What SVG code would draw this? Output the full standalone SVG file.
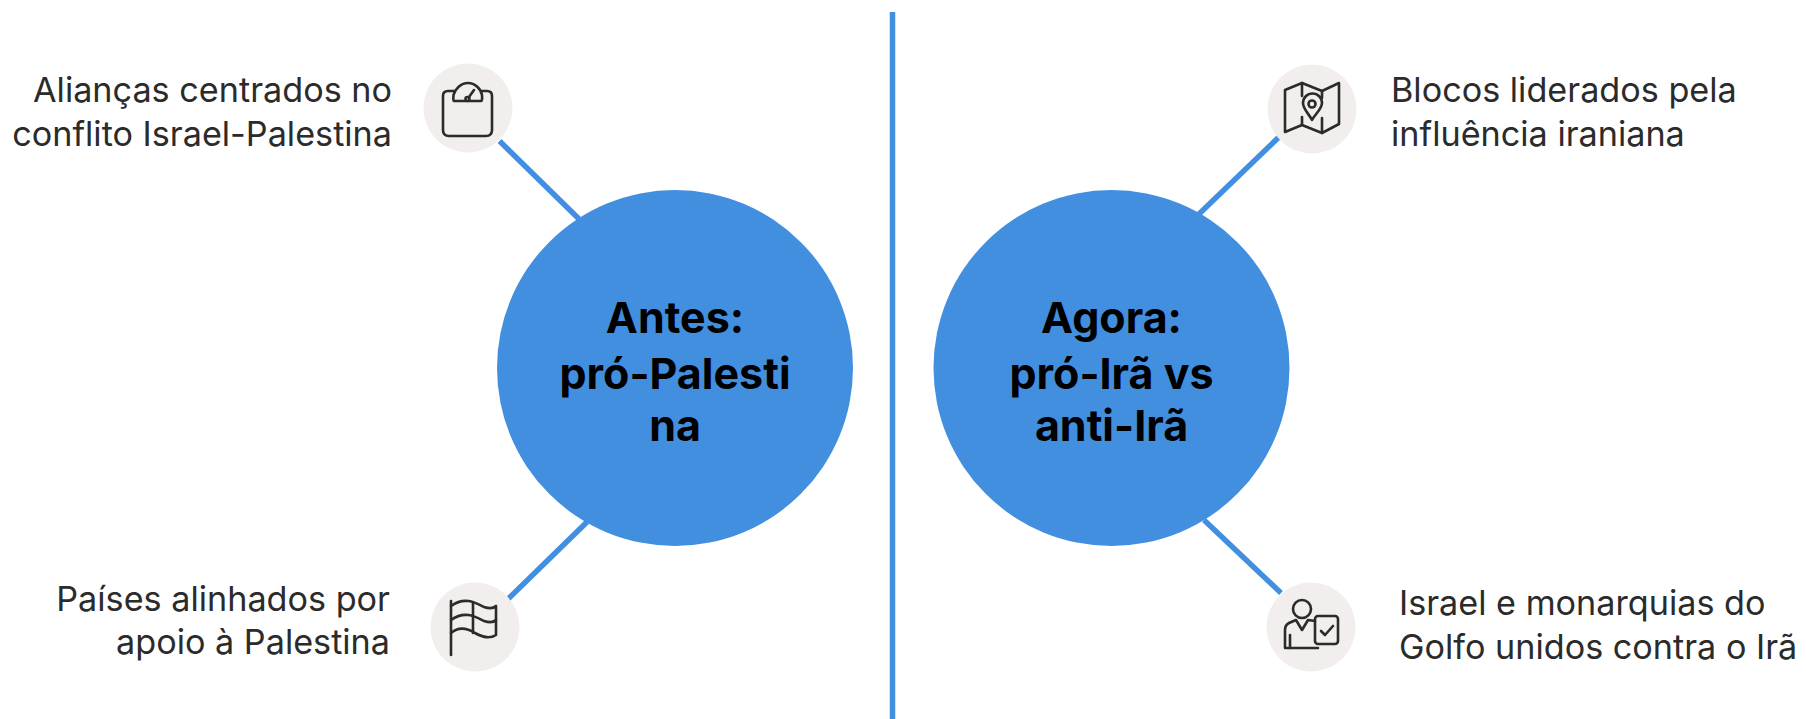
<svg xmlns="http://www.w3.org/2000/svg" width="1806" height="719" viewBox="0 0 1806 719">
<style>
text{font-family:Inter,"Liberation Sans",sans-serif}
.t{font-size:34.200px;fill:#2b2b2b}
.e{text-anchor:end}
.h{font-size:43px;font-weight:700;fill:#000;text-anchor:middle}
.big{fill:#428fe0}
.bub{fill:#f1eeed}
.c{stroke:#428fe0;stroke-width:5.500;fill:none}
.i{fill:none;stroke:#2b2b2b;stroke-width:2.600;stroke-linecap:round;stroke-linejoin:round}
</style>
<rect width="1806" height="719" fill="#fff"/>
<g id="connectors">
<line class="c" x1="499.500" y1="141" x2="579" y2="219"/>
<line class="c" x1="508" y1="599" x2="587" y2="522"/>
<line class="c" x1="1279" y1="137" x2="1199" y2="214"/>
<line class="c" x1="1281" y1="593" x2="1204" y2="520"/>
<line class="c" x1="892.500" y1="12" x2="892.500" y2="719"/>
</g>
<g id="node-antes">
<circle class="big" cx="675" cy="368" r="178"/>
<text class="h" x="675" y="333">Antes:</text>
<text class="h" x="675" y="389">pró-Palesti</text>
<text class="h" x="675" y="441">na</text>
</g>
<g id="node-agora">
<circle class="big" cx="1111.500" cy="368" r="178"/>
<text class="h" x="1111.500" y="333">Agora:</text>
<text class="h" x="1111.500" y="389">pró-Irã vs</text>
<text class="h" x="1111.500" y="441">anti-Irã</text>
</g>
<g id="node-aliancas">
<circle class="bub" cx="468" cy="108" r="44.500"/>
<path class="i" d="M454 91H448Q443 91 443 96V130Q443 136 449 136H486Q492 136 492 130V96Q492 91 487 91H481"/>
<path class="i" d="M454 101Q453 101 453.500 95C455 89 461 83 468 83C475 83 481 89 482 95Q482.500 101 481 101Z"/>
<circle class="i" cx="467.500" cy="99" r="2"/>
<line class="i" x1="469" y1="97" x2="474" y2="90"/>
<text class="t e" x="392" y="102">Alianças centrados no</text>
<text class="t e" x="392" y="146">conflito Israel-Palestina</text>
</g>
<g id="node-paises">
<circle class="bub" cx="475" cy="627" r="44.500"/>
<path class="i" d="M451 601V655"/>
<path class="i" d="M451 606C465 596 476 603 484 607C490 609 494 608 496 606V635C490 639 482 637 475 633C467 628 458 627 451 633"/>
<path class="i" d="M451 620C465 610 476 617 484 621C490 623 494 622 496 620"/>
<path class="i" d="M473 603V633"/>
<text class="t e" x="390" y="611">Países alinhados por</text>
<text class="t e" x="390" y="654">apoio à Palestina</text>
</g>
<g id="node-blocos">
<circle class="bub" cx="1312" cy="109" r="44.500"/>
<path class="i" d="M1285 90L1302 83L1322 91L1339 83V124L1322 133L1302 125L1285 132Z"/>
<path class="i" d="M1302 83V96M1302 117V125M1322 91V98M1322 118V133"/>
<path class="i" d="M1312 120C1309 114 1303 109 1303 103A9.500 9.500 0 0 1 1322 103C1322 109 1315 114 1312 120Z"/>
<circle class="i" cx="1312" cy="104" r="3.500"/>
<text class="t" x="1391" y="102">Blocos liderados pela</text>
<text class="t" x="1391" y="146">influência iraniana</text>
</g>
<g id="node-israel">
<circle class="bub" cx="1311" cy="627" r="44.500"/>
<circle class="i" cx="1302" cy="609" r="9"/>
<path class="i" d="M1315 621L1308 620L1302 630L1296 620L1289 623Q1285 625 1285 630V648H1318"/>
<path class="i" d="M1290 635V648"/>
<rect class="i" x="1315" y="616" width="23" height="28" rx="3"/>
<path class="i" d="M1321 631L1325 635L1333 626"/>
<text class="t" x="1399" y="615">Israel e monarquias do</text>
<text class="t" x="1399" y="659">Golfo unidos contra o Irã</text>
</g>
</svg>
